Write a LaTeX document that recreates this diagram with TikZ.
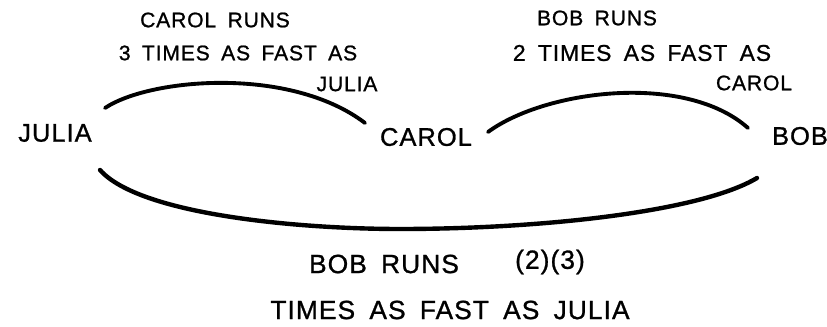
\documentclass[tikz,border=0pt]{standalone}
\usepackage{fontspec}
\setmainfont{Liberation Sans}[LetterSpace=4, WordSpace=1.7, FakeBold=1]
\begin{document}
\begin{tikzpicture}[x=0.02cm, y=-0.02cm,
  lbl/.style={inner sep=0pt, font=\fontsize{12}{14}\selectfont},
  biglbl/.style={inner sep=0pt, font=\fontsize{15}{17}\selectfont},
  runner/.style={inner sep=0pt, font=\fontsize{14.5}{16}\selectfont},
  arc/.style={line width=2.2pt, line cap=round}]
\useasboundingbox (0,0) rectangle (827,327);

% the three runners
\node[runner] (julia) at (55,133) {JULIA};
\node[runner] (carol) at (426,137) {CAROL};
\node[runner] (bob)   at (800,136) {BOB};

% Carol versus Julia
\node[lbl] (c1) at (215,20) {CAROL RUNS};
\node[lbl] (c2) at (238,53) {3 TIMES AS FAST AS};
\node[lbl] (c3) at (347,84) {JULIA};

% Bob versus Carol
\node[lbl] (b1) at (597,18) {BOB RUNS};
\node[lbl, font=\fontsize{13}{15}\selectfont] (b2) at (642,53) {2 TIMES AS FAST AS};
\node[lbl] (b3) at (754,83) {CAROL};

% Bob versus Julia
\node[biglbl] (j1) at (384,264) {BOB RUNS};
\node[biglbl] (j2) at (550,262) {(2)(3)};
\node[biglbl] (j3) at (450,310) {TIMES AS FAST AS JULIA};

% arcs joining the runners
\draw[arc] ([shift={(50,-25)}]julia.center)
  .. controls (150,78) and (290,66) .. ([shift={(-61,-14)}]carol.center);
\draw[arc] ([shift={(62,-5)}]carol.center)
  .. controls (545,90) and (685,72) .. ([shift={(-52,-8)}]bob.center);
\draw[arc, line width=2.5pt] ([shift={(45,37)}]julia.center)
  .. controls (140,215) and (300,229) .. (400,229)
  .. controls (540,229) and (700,212) .. ([shift={(-43,42)}]bob.center);
\end{tikzpicture}
\end{document}
